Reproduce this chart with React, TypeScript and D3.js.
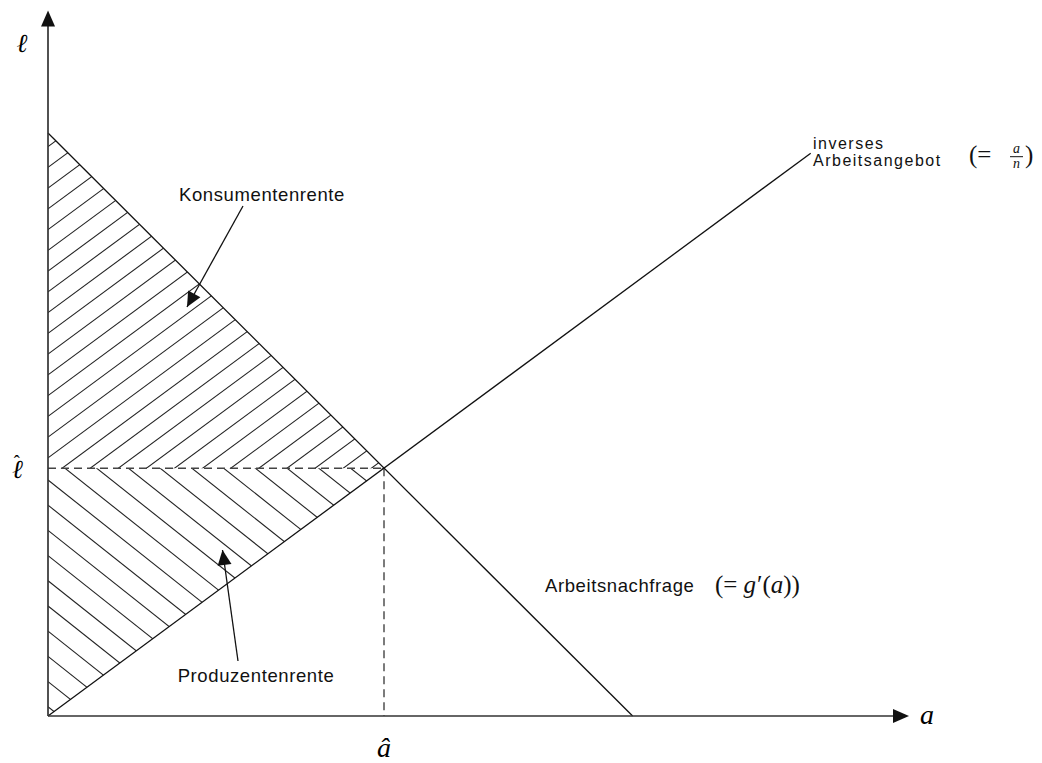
import React from 'react';
import * as d3 from 'd3';

// model values (a = labour, l = wage)
const equilibrium = { a: 4.0, l: 2.95 };
const supplyLine = [{ a: 0, l: 0 }, { a: 9.08, l: 6.7 }];
const demandLine = [{ a: 0, l: 6.94 }, { a: 6.96, l: 0 }];
const axisMax = { a: 10.25, l: 8.4 };

// hatching: intercept of first line, step between lines, slope
const upperHatch = { start: 2.826, step: 0.247, slope: 0.738 };
const lowerHatch = { start: 2.81, step: 0.3, slope: -0.794 };

const labels = {
  consumer: 'Konsumentenrente',
  producer: 'Produzentenrente',
  supply1: 'inverses',
  supply2: 'Arbeitsangebot',
  demand: 'Arbeitsnachfrage',
};

const W = 1042;
const H = 763;

const x = d3.scaleLinear().domain([0, 10]).range([48, 888]);
const y = d3.scaleLinear().domain([0, 10]).range([716, -124]);

const line = d3
  .line<{ a: number; l: number }>()
  .x((d) => x(d.a))
  .y((d) => y(d.l));

const sans = "'Liberation Sans', Arial, sans-serif";
const serif = "'Liberation Serif', 'Times New Roman', serif";

function arrowHead(x1: number, y1: number, x2: number, y2: number, len = 15, half = 7) {
  const dx = x2 - x1;
  const dy = y2 - y1;
  const n = Math.hypot(dx, dy);
  const ux = dx / n;
  const uy = dy / n;
  const bx = x2 - ux * len;
  const by = y2 - uy * len;
  return `M${x2},${y2}L${bx - uy * half},${by + ux * half}L${bx + uy * half},${by - ux * half}Z`;
}

function hatchLines(h: { start: number; step: number; slope: number }, lo: number, hi: number) {
  const out: number[] = [];
  for (let k = -30; k <= 30; k++) {
    const c = h.start + h.step * k;
    if (c > lo && c < hi) out.push(c);
  }
  return out;
}

export default function App() {
  const ox = x(0);
  const oy = y(0);
  const ex = x(equilibrium.a);
  const ey = y(equilibrium.l);
  const topY = y(axisMax.l);
  const rightX = x(axisMax.a);

  const upperTri = `M${ox},${y(demandLine[0].l)}L${ox},${ey}L${ex},${ey}Z`;
  const lowerTri = `M${ox},${oy}L${ox},${ey}L${ex},${ey}Z`;

  const upperC = hatchLines(upperHatch, 0, demandLine[0].l);
  const lowerC = hatchLines(lowerHatch, 0, equilibrium.l - lowerHatch.slope * equilibrium.a);

  const kArrow = { x1: 243, y1: 206, x2: 187, y2: 307 };
  const pArrow = { x1: 238, y1: 661, x2: 222.5, y2: 550 };

  return (
    <svg
      width={W}
      height={H}
      style={{ position: 'absolute', left: 0, top: 0, background: '#fff' }}
    >
      <defs>
        <clipPath id="upperClip">
          <path d={upperTri} />
        </clipPath>
        <clipPath id="lowerClip">
          <path d={lowerTri} />
        </clipPath>
      </defs>

      {/* hatching */}
      <g clipPath="url(#upperClip)" stroke="#222" strokeWidth={1.1}>
        {upperC.map((c, i) => (
          <line key={i} x1={x(0)} y1={y(c)} x2={x(5)} y2={y(c + upperHatch.slope * 5)} />
        ))}
      </g>
      <g clipPath="url(#lowerClip)" stroke="#222" strokeWidth={1.1}>
        {lowerC.map((c, i) => (
          <line key={i} x1={x(0)} y1={y(c)} x2={x(5)} y2={y(c + lowerHatch.slope * 5)} />
        ))}
      </g>

      {/* dashed guides */}
      <g stroke="#444" strokeWidth={1.4} strokeDasharray="8,5" fill="none">
        <line x1={ox} y1={ey} x2={ex} y2={ey} />
        <line x1={ex} y1={ey} x2={ex} y2={oy} />
      </g>

      {/* curves */}
      <path d={line(supplyLine) || ''} stroke="#111" strokeWidth={1.3} fill="none" />
      <path d={line(demandLine) || ''} stroke="#111" strokeWidth={1.3} fill="none" />

      {/* axes */}
      <g stroke="#333" strokeWidth={1.7}>
        <line x1={ox} y1={oy} x2={ox} y2={topY + 12} />
        <line x1={ox} y1={oy} x2={rightX - 12} y2={oy} />
      </g>
      <path d={arrowHead(ox, oy, ox, topY, 16, 7)} fill="#111" />
      <path d={arrowHead(ox, oy, rightX, oy, 16, 7)} fill="#111" />

      {/* axis labels */}
      <text x={22} y={52} fontFamily={serif} fontStyle="italic" fontSize={26} textAnchor="middle">
        ℓ
      </text>
      <text x={12} y={478} fontFamily={serif} fontStyle="italic" fontSize={26}>
        ℓ
        <tspan dx={-9} dy={-10} fontStyle="normal" fontSize={18}>ˆ</tspan>
      </text>
      <text x={ex} y={757} fontFamily={serif} fontStyle="italic" fontSize={28} textAnchor="middle">
        â
      </text>
      <text x={927} y={724} fontFamily={serif} fontStyle="italic" fontSize={28} textAnchor="middle">
        a
      </text>

      {/* area labels with pointers */}
      <g fontFamily={sans} fontSize={18.5} letterSpacing={0.6} fill="#111">
        <text x={262} y={201} textAnchor="middle">{labels.consumer}</text>
        <text x={256} y={682} textAnchor="middle">{labels.producer}</text>
        <text x={545} y={592}>{labels.demand}</text>
      </g>
      <text fontFamily={sans} fontSize={16} letterSpacing={1.5} fill="#111">
        <tspan x={813} y={148.5}>{labels.supply1}</tspan>
        <tspan x={813} y={165.5}>{labels.supply2}</tspan>
      </text>
      <g stroke="#111" strokeWidth={1.3}>
        <line x1={kArrow.x1} y1={kArrow.y1} x2={kArrow.x2} y2={kArrow.y2} />
        <line x1={pArrow.x1} y1={pArrow.y1} x2={pArrow.x2} y2={pArrow.y2} />
      </g>
      <path d={arrowHead(kArrow.x1, kArrow.y1, kArrow.x2, kArrow.y2, 15, 7)} fill="#111" />
      <path d={arrowHead(pArrow.x1, pArrow.y1, pArrow.x2, pArrow.y2, 15, 7)} fill="#111" />

      {/* math annotations */}
      <text x={715} y={593} fontFamily={serif} fontSize={25} fill="#111">
        <tspan>(=</tspan>
        <tspan dx={6} fontStyle="italic">g</tspan>
        <tspan dx={1}>′(</tspan>
        <tspan fontStyle="italic">a</tspan>
        <tspan>))</tspan>
      </text>
      <text x={969} y={162.5} fontFamily={serif} fontSize={25} fill="#111">
        (=
      </text>
      <text fontFamily={serif} fontStyle="italic" fontSize={14} textAnchor="middle" fill="#111">
        <tspan x={1016.5} y={153}>a</tspan>
        <tspan x={1016.5} y={168}>n</tspan>
      </text>
      <line x1={1010} y1={156.7} x2={1023} y2={156.7} stroke="#111" strokeWidth={1} />
      <text x={1025} y={162.5} fontFamily={serif} fontSize={25} fill="#111">
        )
      </text>
    </svg>
  );
}
